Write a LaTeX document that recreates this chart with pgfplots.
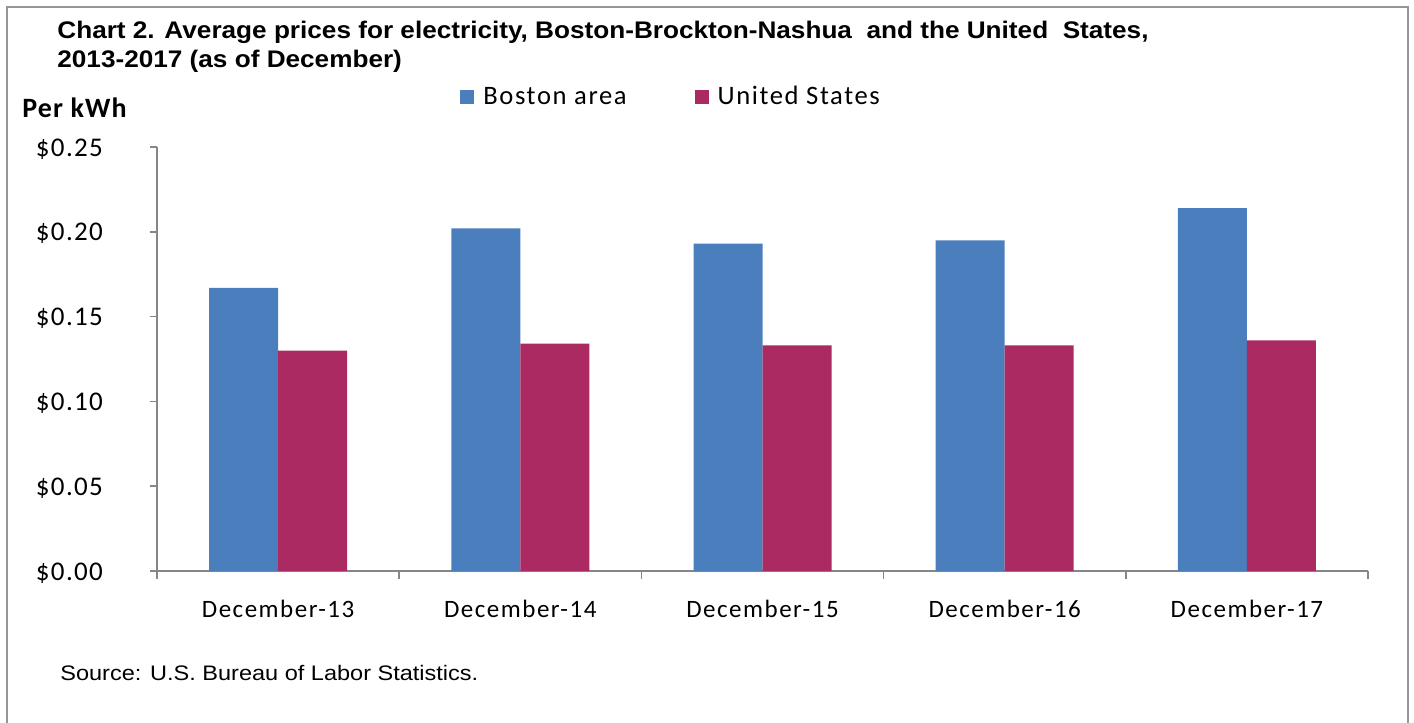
\documentclass[border=0pt]{standalone}
\usepackage{fontspec}
\setmainfont{Liberation Sans}
\newfontfamily\titlefont[FakeStretch=1.09]{Liberation Sans}
\newfontfamily\sourcefont[FakeStretch=1.12]{Liberation Sans}
\newfontfamily\califont[LetterSpace=6]{Carlito}
\newfontfamily\tickfont[LetterSpace=5]{Carlito}
\newfontfamily\perfont[LetterSpace=4]{Carlito}
\usepackage{pgfplots}
\pgfplotsset{compat=1.18}
\definecolor{bosblue}{RGB}{74,126,189}
\definecolor{usred}{RGB}{172,42,98}
\definecolor{axgray}{RGB}{134,134,134}
\definecolor{framegray}{RGB}{150,150,150}

\begin{document}
\begin{tikzpicture}[x=1pt,y=1pt]
\useasboundingbox (-78.5,-76) rectangle (628.5,285.5);
\draw[framegray, line width=0.8pt] (-75,-90) -- (-75,282) -- (625.5,282) -- (625.5,-90);
\begin{axis}[
    at={(0,0)}, anchor=south west,
    width=605.5pt, height=212pt, scale only axis,
    xmin=-0.5, xmax=4.5, ymin=0, ymax=0.25,
    axis x line*=bottom, axis y line*=left,
    x axis line style={-, axgray, line width=0.8pt},
    y axis line style={-, axgray, line width=0.8pt},
    ybar=0pt, bar width=34.5pt,
    xtick={0,1,2,3,4},
    xticklabels={December-13,December-14,December-15,December-16,December-17},
    minor xtick={-0.5,0.5,1.5,2.5,3.5,4.5},
    major x tick style={draw=none},
    tick align=outside,
    major tick length=3.5pt, minor tick length=4pt,
    tick style={axgray, line width=0.8pt},
    ytick={0,0.05,0.1,0.15,0.2,0.25},
    yticklabels={\$0.00,\$0.05,\$0.10,\$0.15,\$0.20,\$0.25},
    xticklabel style={anchor=base, yshift=-19.5pt, font=\califont\fontsize{12.5}{14}\selectfont},
    yticklabel style={anchor=base east, yshift=-4.5pt, xshift=-20pt, font=\tickfont\fontsize{13.5}{15}\selectfont},
    legend style={at={(0.2502,1.118)}, anchor=west, draw=none, fill=none,
        inner sep=0pt, legend columns=2,
        font=\califont\fontsize{13.3}{15}\selectfont,
        /tikz/every odd column/.append style={column sep=2.5pt},
        /tikz/every even column/.append style={column sep=32pt}},
]
\addplot[fill=bosblue, draw=none,
    legend image code/.code={\fill[bosblue] (0pt,-3.5pt) rectangle (7pt,3.5pt);}]
    coordinates {(0,0.167) (1,0.202) (2,0.193) (3,0.195) (4,0.214)};
\addlegendentry{Boston area}
\addplot[fill=usred, draw=none,
    legend image code/.code={\fill[usred] (0pt,-3.5pt) rectangle (7pt,3.5pt);}]
    coordinates {(0,0.130) (1,0.134) (2,0.133) (3,0.133) (4,0.136)};
\addlegendentry{United States}
\end{axis}
\node[anchor=base west, inner sep=0pt] at (-50,266)
    {\titlefont\bfseries\fontsize{12}{14}\selectfont Chart 2. Average prices for electricity, Boston-Brockton-Nashua\ \ and the United\ \ States,};
\node[anchor=base west, inner sep=0pt] at (-50,251.5)
    {\titlefont\bfseries\fontsize{12}{14}\selectfont 2013-2017 (as of December)};
\node[anchor=base west, inner sep=0pt] at (-67.5,226.5)
    {\perfont\bfseries\fontsize{14}{16}\selectfont Per kWh};
\node[anchor=base west, inner sep=0pt] at (-48.5,-54.5)
    {\sourcefont\fontsize{10.5}{12}\selectfont Source: U.S. Bureau of Labor Statistics.};
\end{tikzpicture}
\end{document}
